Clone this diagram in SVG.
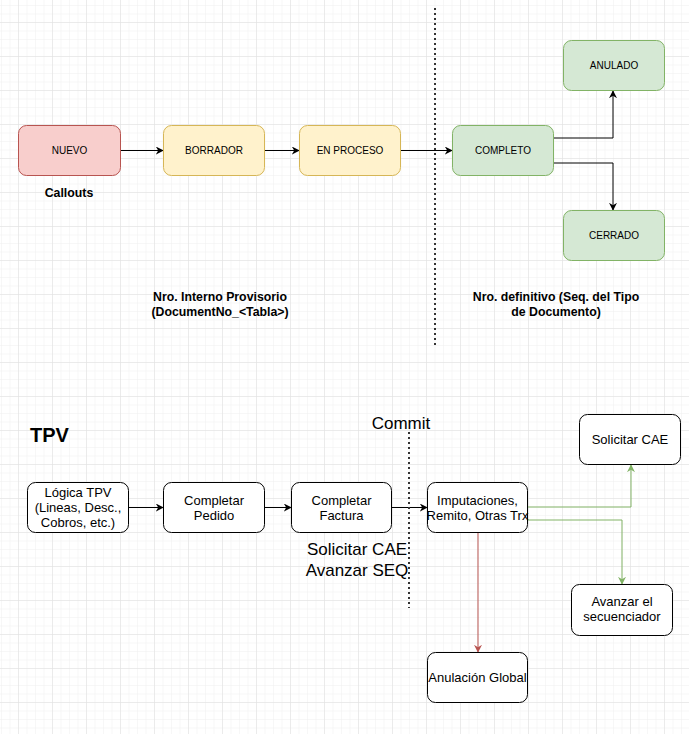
<svg xmlns="http://www.w3.org/2000/svg" width="689" height="734" viewBox="0 0 689 734">
<defs>
<pattern id="minor" x="18" y="22" width="8.5" height="8.5" patternUnits="userSpaceOnUse">
<path d="M0 0H8.5M0 0V8.5" fill="none" stroke="#f0f0f0" stroke-width="1"/>
</pattern>
<pattern id="major" x="18" y="22" width="34" height="34" patternUnits="userSpaceOnUse">
<path d="M0 0H34M0 0V34" fill="none" stroke="#e0e0e0" stroke-width="1"/>
</pattern>
<marker id="ab" viewBox="0 0 10 10" refX="9" refY="5" markerWidth="8" markerHeight="8" markerUnits="userSpaceOnUse" orient="auto">
<path d="M0 0L10 5L0 10L3 5Z" fill="#000"/>
</marker>
<marker id="ag" viewBox="0 0 10 10" refX="9" refY="5" markerWidth="8" markerHeight="8" markerUnits="userSpaceOnUse" orient="auto">
<path d="M0 0L10 5L0 10L3 5Z" fill="#82b366"/>
</marker>
<marker id="ar" viewBox="0 0 10 10" refX="9" refY="5" markerWidth="8" markerHeight="8" markerUnits="userSpaceOnUse" orient="auto">
<path d="M0 0L10 5L0 10L3 5Z" fill="#b85450"/>
</marker>
<style>
text{font-family:"Liberation Sans",Arial,sans-serif;fill:#000;text-anchor:middle}
.s{font-size:10px}
.m{font-size:13px}
.b{font-size:12.3px;font-weight:bold}
.l{font-size:17px}
.red{fill:#f8cecc;stroke:#b85450}
.yel{fill:#fff2cc;stroke:#d6b656}
.grn{fill:#d5e8d4;stroke:#82b366}
.wht{fill:#fff;stroke:#000}
.c{fill:none;stroke:#000;stroke-width:1}
.cg{fill:none;stroke:#82b366;stroke-width:1}
.cr{fill:none;stroke:#b85450;stroke-width:1}
.dot{stroke:#333;stroke-width:2;stroke-dasharray:2 3}
</style>
</defs>
<rect width="689" height="734" fill="#fff"/>
<rect width="689" height="734" fill="url(#minor)"/>
<rect width="689" height="734" fill="url(#major)"/>

<g id="connectors">
<path class="c" d="M121 150.5H163" marker-end="url(#ab)"/>
<path class="c" d="M265 150.5H299" marker-end="url(#ab)"/>
<path class="c" d="M401 150.5H452" marker-end="url(#ab)"/>
<path class="c" d="M554 138H613V91" marker-end="url(#ab)"/>
<path class="c" d="M554 163H613V210" marker-end="url(#ab)"/>
<path class="c" d="M129 507.5H163" marker-end="url(#ab)"/>
<path class="c" d="M265 507.5H291" marker-end="url(#ab)"/>
<path class="c" d="M392 507.5H427" marker-end="url(#ab)"/>
<path class="cg" d="M528 507H631V465" marker-end="url(#ag)"/>
<path class="cg" d="M528 520H622V584" marker-end="url(#ag)"/>
<path class="cr" d="M478 533V652" marker-end="url(#ar)"/>
</g>

<g id="separators">
<line class="dot" x1="435" y1="8" x2="435" y2="346"/>
<line class="dot" x1="409" y1="432" x2="409" y2="608"/>
</g>

<g id="nuevo"><rect class="red" x="18.5" y="125.5" width="102" height="50" rx="8"/><text class="s" x="69.5" y="154">NUEVO</text></g>
<g id="borrador"><rect class="yel" x="163.5" y="125.5" width="101" height="50" rx="8"/><text class="s" x="214" y="154">BORRADOR</text></g>
<g id="enproceso"><rect class="yel" x="299.5" y="125.5" width="101" height="50" rx="8"/><text class="s" x="350" y="154">EN PROCESO</text></g>
<g id="completo"><rect class="grn" x="452.5" y="125.5" width="101" height="50" rx="8"/><text class="s" x="503" y="154">COMPLETO</text></g>
<g id="anulado"><rect class="grn" x="563.5" y="40.5" width="101" height="50" rx="8"/><text class="s" x="614" y="69">ANULADO</text></g>
<g id="cerrado"><rect class="grn" x="563.5" y="210.5" width="101" height="50" rx="8"/><text class="s" x="614" y="239">CERRADO</text></g>

<g id="callouts"><text class="b" x="69" y="197">Callouts</text></g>
<g id="nro-interno"><text class="b" x="220" y="301">Nro. Interno Provisorio</text><text class="b" x="220" y="316">(DocumentNo_&lt;Tabla&gt;)</text></g>
<g id="nro-definitivo"><text class="b" x="556" y="301">Nro. definitivo (Seq. del Tipo</text><text class="b" x="556" y="316">de Documento)</text></g>

<g id="tpv-title"><text x="30" y="442" style="font-size:20px;font-weight:bold;text-anchor:start">TPV</text></g>
<g id="commit"><text class="l" x="401" y="429">Commit</text></g>
<g id="solicitar-avanzar"><text class="l" x="357" y="555">Solicitar CAE</text><text class="l" x="357" y="576">Avanzar SEQ</text></g>

<g id="logica"><rect class="wht" x="27.5" y="482.5" width="101" height="50" rx="8"/><text class="m" x="78" y="497">Lógica TPV</text><text class="m" x="78" y="512">(Lineas, Desc.,</text><text class="m" x="78" y="527">Cobros, etc.)</text></g>
<g id="pedido"><rect class="wht" x="163.5" y="482.5" width="101" height="50" rx="8"/><text class="m" x="214" y="504.5">Completar</text><text class="m" x="214" y="519.5">Pedido</text></g>
<g id="factura"><rect class="wht" x="291.5" y="482.5" width="100" height="50" rx="8"/><text class="m" x="341.5" y="504.5">Completar</text><text class="m" x="341.5" y="519.5">Factura</text></g>
<g id="imputaciones"><rect class="wht" x="427.5" y="482.5" width="100" height="50" rx="8"/><text class="m" x="477.5" y="504.5">Imputaciones,</text><text class="m" x="477.5" y="519.5">Remito, Otras Trx</text></g>
<g id="solicitar-cae"><rect class="wht" x="579.5" y="414.5" width="101" height="50" rx="8"/><text class="m" x="630" y="444">Solicitar CAE</text></g>
<g id="avanzar"><rect class="wht" x="571.5" y="584.5" width="101" height="51" rx="8"/><text class="m" x="622" y="606">Avanzar el</text><text class="m" x="622" y="621">secuenciador</text></g>
<g id="anulacion"><rect class="wht" x="427.5" y="652.5" width="100" height="50" rx="8"/><text class="m" x="477.5" y="682">Anulación Global</text></g>
</svg>
